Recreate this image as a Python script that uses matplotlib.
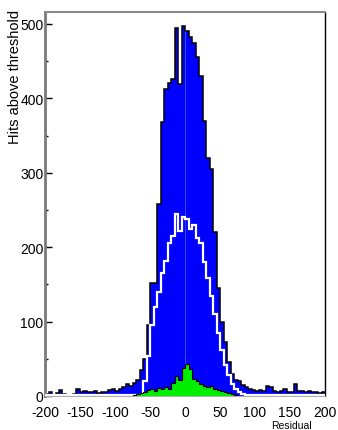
import numpy as np
import matplotlib
matplotlib.use("Agg")
import matplotlib.pyplot as plt

plt.rcParams['font.family'] = ['Liberation Sans', 'DejaVu Sans']

# bin edges of the residual histograms (5 units wide)
edges = np.arange(-200, 201, 5)

# all hits above threshold (blue): left tail, core [-80, 90), right tail
hits_all = ([3, 5, 2, 4, 8, 3, 2, 1, 3, 10, 6, 7, 5, 6, 7, 4, 6, 5, 8, 9, 7, 10, 12, 16]
            + [14, 18, 22, 35, 50, 95, 152, 152, 258, 368, 412, 420, 426, 495, 419, 497,
               490, 482, 475, 455, 430, 370, 320, 305, 220, 145, 100, 72, 46, 30, 22, 20, 15, 12]
            + [9, 8, 7, 8, 7, 13, 12, 7, 6, 7, 9, 6, 5, 16, 7, 7, 6, 7, 6, 5, 4, 5])

# selected hits (white line)
hits_sel = ([1] * 24
            + [1, 1, 1, 2, 20, 54, 95, 120, 140, 165, 182, 205, 215, 244, 222, 240,
               238, 225, 230, 212, 205, 180, 158, 135, 110, 85, 62, 42, 28, 16, 9, 5, 3, 2]
            + [1] * 22)

# hits from the second sample (green), zero outside [-75, 75]
hits_green = ([0] * 25
              + [2, 3, 4, 5, 8, 10, 7, 11, 9, 12, 10, 18, 27, 22, 38,
                 43, 36, 23, 20, 16, 14, 12, 13, 9, 8, 7, 5, 4, 3, 2]
              + [0] * 25)

xticks = [-200, -150, -100, -50, 0, 50, 100, 150, 200]
yticks = [0, 100, 200, 300, 400, 500]

fig = plt.figure(figsize=(3.38, 4.31), dpi=100)
ax = fig.add_axes([45 / 338, 1 - 397 / 431, 280 / 338, 384 / 431])

ax.stairs(hits_all, edges, fill=True, color='#0000ff', zorder=1)
ax.stairs(hits_all, edges, color='black', lw=1.1, zorder=2)
ax.vlines(0, 0, 490, color='#3a5cff', lw=0.6, zorder=2)
ax.stairs(hits_sel, edges, color='white', lw=1.6, zorder=3)
ax.stairs(hits_green, edges, fill=True, color='#00ee00', zorder=4)
ax.stairs(hits_green, edges, color='black', lw=0.8, zorder=5)

ax.set_xlim(-200, 200)
ax.set_ylim(0, 516)
ax.set_xticks(xticks)
ax.set_xticklabels([str(t) for t in xticks], fontsize=10)
ax.set_yticks(yticks)
ax.set_yticklabels([str(t) for t in yticks], fontsize=10)
ax.set_yticks(np.arange(50, 516, 100), minor=True)
ax.tick_params(axis='x', length=0, pad=6.5)
ax.tick_params(axis='y', which='major', direction='in', length=5, width=1, pad=1)
ax.tick_params(axis='y', which='minor', direction='in', length=2, width=1)

ax.spines['left'].set_color('#7a7a7a')
ax.spines['left'].set_linewidth(2)
ax.spines['top'].set_color('#8a8a8a')
ax.spines['top'].set_linewidth(1.5)
ax.spines['right'].set_color('black')
ax.spines['right'].set_linewidth(1)
ax.spines['bottom'].set_color('#b0b0b0')
ax.spines['bottom'].set_linewidth(0.8)

fig.text(15 / 338, 1 - 10 / 431, "Hits above threshold", rotation=90,
         ha='center', va='top', fontsize=10.5)
fig.text(312 / 338, 1 - 426 / 431, "Residual", ha='right', va='center', fontsize=7.5)

fig.savefig("out.png", dpi=100)
